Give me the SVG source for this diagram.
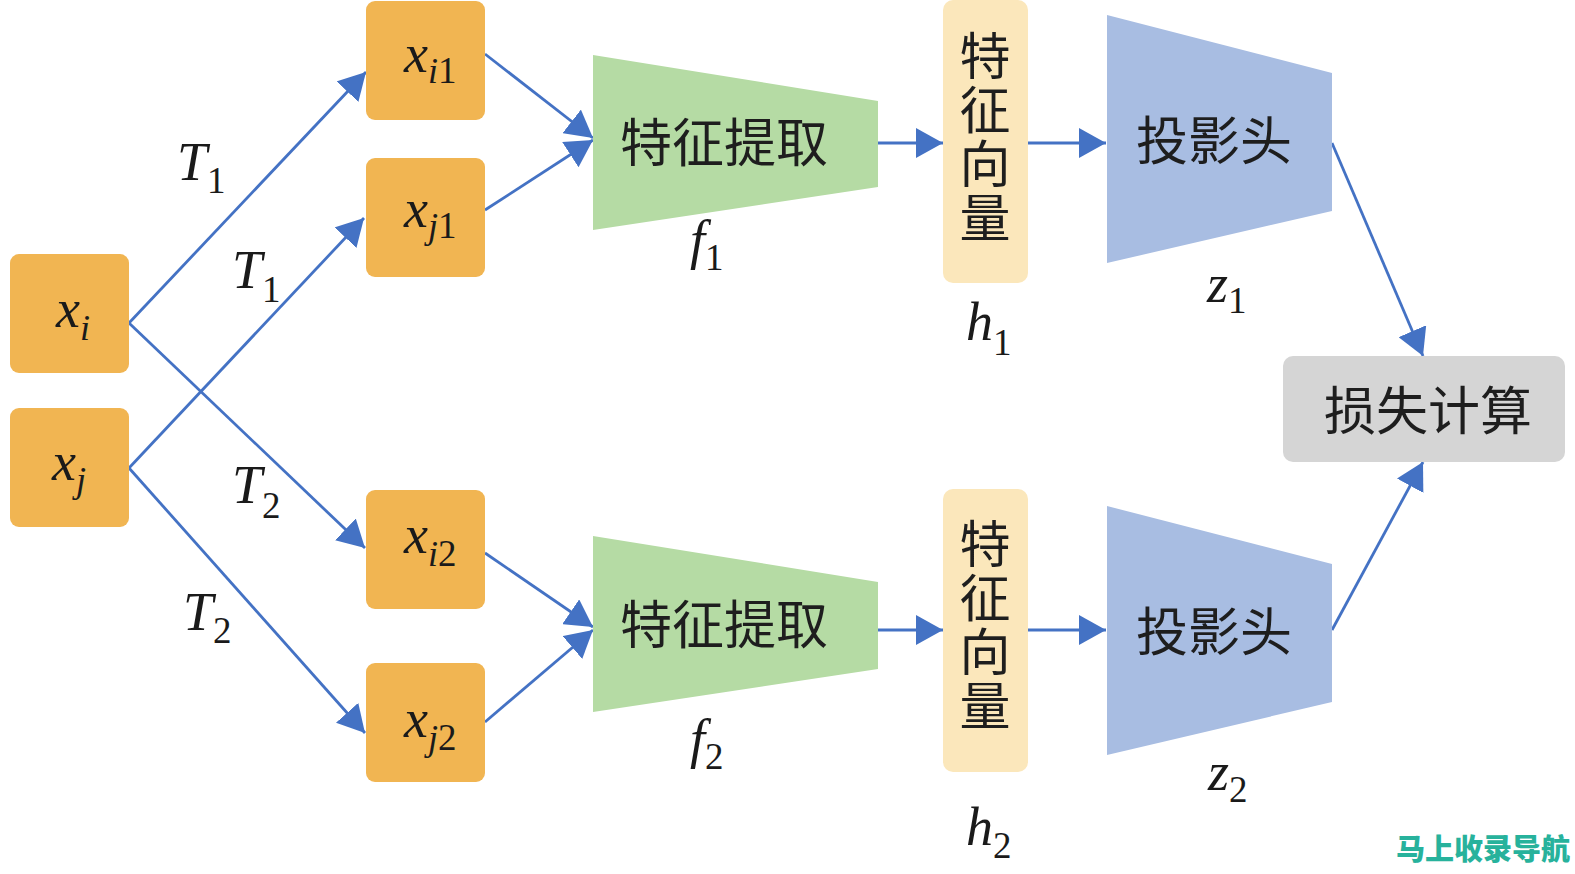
<svg xmlns="http://www.w3.org/2000/svg" width="1575" height="874" viewBox="0 0 1575 874">
<style>
.box{fill:#F1B552}
.fe{fill:#B5DBA4}
.pj{fill:#A8BDE2}
.fv{fill:#FBE7BB}
.loss{fill:#D5D5D5}
.cn{font-family:"Noto Sans CJK SC","Noto Sans CJK JP",sans-serif;font-size:52px;fill:#1e1e1e;text-anchor:middle;dominant-baseline:central}
.cv{font-family:"Noto Sans CJK SC","Noto Sans CJK JP",sans-serif;font-size:51px;fill:#1e1e1e;text-anchor:middle;writing-mode:vertical-rl;letter-spacing:3px}
.m{font-family:"Liberation Serif",serif;font-style:italic;font-size:54px;fill:#1a1a1a}
.si{font-size:36px;font-style:italic}
.sd{font-size:37px;font-style:normal}
.ln{fill:none;stroke:#4472C4;stroke-width:2.8}
.wm{font-family:"Noto Sans CJK SC",sans-serif;font-weight:900;font-size:29px;fill:#27B29C}
</style>
<defs>
<marker id="ah" markerUnits="userSpaceOnUse" markerWidth="28" markerHeight="30" refX="27" refY="15" orient="auto">
<path d="M0,0 L27,15 L0,30 z" fill="#4472C4"/>
</marker>
</defs>

<g id="connectors">
<path class="ln" d="M129,323 L366,72" marker-end="url(#ah)"/>
<path class="ln" d="M129,468 L364,218" marker-end="url(#ah)"/>
<path class="ln" d="M129,323 L365,548" marker-end="url(#ah)"/>
<path class="ln" d="M129,468 L365,733" marker-end="url(#ah)"/>
<path class="ln" d="M485,54 L593,138" marker-end="url(#ah)"/>
<path class="ln" d="M485,210 L593,140" marker-end="url(#ah)"/>
<path class="ln" d="M485,553 L593,627" marker-end="url(#ah)"/>
<path class="ln" d="M485,722 L593,630" marker-end="url(#ah)"/>
<path class="ln" d="M878,143 L943,143" marker-end="url(#ah)"/>
<path class="ln" d="M1028,143 L1106,143" marker-end="url(#ah)"/>
<path class="ln" d="M878,630 L943,630" marker-end="url(#ah)"/>
<path class="ln" d="M1028,630 L1106,630" marker-end="url(#ah)"/>
<path class="ln" d="M1332,143 L1423,356" marker-end="url(#ah)"/>
<path class="ln" d="M1332,630 L1423,462" marker-end="url(#ah)"/>
</g>

<g id="xi"><rect class="box" x="10" y="254" width="119" height="119" rx="9"/>
<text class="m" x="56" y="327">x<tspan class="si" dy="13">i</tspan></text></g>
<g id="xj"><rect class="box" x="10" y="408" width="119" height="119" rx="9"/>
<text class="m" x="52" y="480">x<tspan class="si" dy="12">j</tspan></text></g>

<g id="xi1"><rect class="box" x="366" y="1" width="119" height="119" rx="9"/>
<text class="m" x="404" y="72">x<tspan class="si" dy="11">i</tspan><tspan class="sd">1</tspan></text></g>
<g id="xj1"><rect class="box" x="366" y="158" width="119" height="119" rx="9"/>
<text class="m" x="404" y="227">x<tspan class="si" dy="11">j</tspan><tspan class="sd">1</tspan></text></g>
<g id="xi2"><rect class="box" x="366" y="490" width="119" height="119" rx="9"/>
<text class="m" x="404" y="553">x<tspan class="si" dy="13">i</tspan><tspan class="sd">2</tspan></text></g>
<g id="xj2"><rect class="box" x="366" y="663" width="119" height="119" rx="9"/>
<text class="m" x="404" y="737">x<tspan class="si" dy="13">j</tspan><tspan class="sd">2</tspan></text></g>

<g id="T-labels">
<text class="m" x="177" y="180" font-size="56">T<tspan class="sd" dy="13">1</tspan></text>
<text class="m" x="232" y="288" font-size="56">T<tspan class="sd" dy="14">1</tspan></text>
<text class="m" x="232" y="503" font-size="56">T<tspan class="sd" dy="15">2</tspan></text>
<text class="m" x="183" y="630" font-size="56">T<tspan class="sd" dy="13">2</tspan></text>
</g>

<g id="fe1"><polygon class="fe" points="593,55 878,101 878,187 593,230"/>
<text class="cn" x="724" y="139" font-size="55">特征提取</text>
<text class="m" x="690" y="258">f<tspan class="sd" dy="12">1</tspan></text></g>
<g id="fe2"><polygon class="fe" points="593,536 878,582 878,669 593,712"/>
<text class="cn" x="724" y="621" font-size="55">特征提取</text>
<text class="m" x="690" y="757">f<tspan class="sd" dy="12">2</tspan></text></g>

<g id="fv1"><rect class="fv" x="943" y="0" width="85" height="283" rx="10"/>
<text class="cv" x="985" y="138">特征向量</text>
<text class="m" x="966" y="340">h<tspan class="sd" dy="15">1</tspan></text></g>
<g id="fv2"><rect class="fv" x="943" y="489" width="85" height="283" rx="10"/>
<text class="cv" x="985" y="626">特征向量</text>
<text class="m" x="966" y="845">h<tspan class="sd" dy="13">2</tspan></text></g>

<g id="pj1"><polygon class="pj" points="1107,15 1332,73 1332,211 1107,263"/>
<text class="cn" x="1214" y="137" font-size="54">投影头</text>
<text class="m" x="1207" y="302">z<tspan class="sd" dy="11">1</tspan></text></g>
<g id="pj2"><polygon class="pj" points="1107,506 1332,564 1332,702 1107,755"/>
<text class="cn" x="1214" y="628" font-size="54">投影头</text>
<text class="m" x="1208" y="790">z<tspan class="sd" dy="12">2</tspan></text></g>

<g id="loss"><rect class="loss" x="1283" y="356" width="282" height="106" rx="10"/>
<text class="cn" x="1428" y="407" font-size="54">损失计算</text></g>

<text class="wm" x="1396" y="860">马上收录导航</text>
</svg>
